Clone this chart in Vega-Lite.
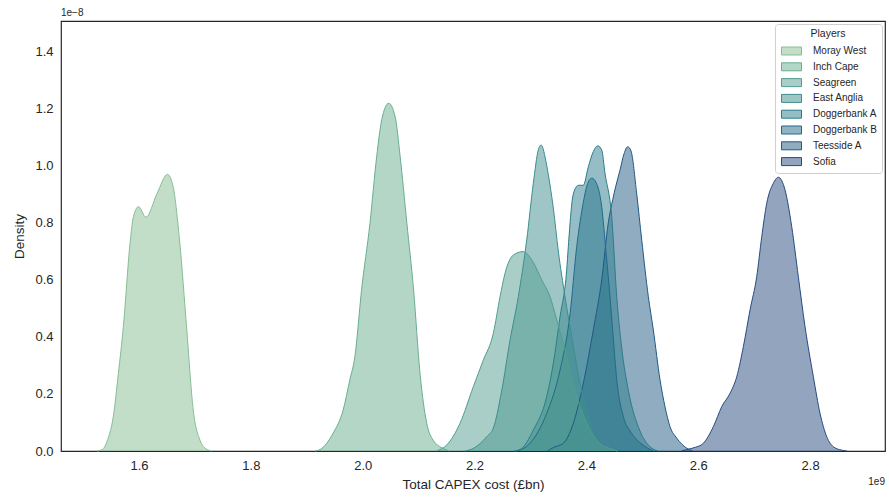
{
  "$schema": "https://vega.github.io/schema/vega-lite/v6.json",
  "width": 824,
  "height": 430,
  "autosize": "none",
  "padding": {"left": 61, "top": 21, "right": 4, "bottom": 46},
  "background": "white",
  "config": {
    "font": "Liberation Sans",
    "view": {"stroke": "#262626", "strokeWidth": 1.2},
    "axis": {"domain": false, "grid": false, "ticks": false, "labelFontSize": 13, "titleFontSize": 13.5, "titleFontWeight": "normal", "labelColor": "#262626", "titleColor": "#262626"}
  },
  "title": {"text": "1e−8", "anchor": "start", "frame": "group", "fontSize": 10, "fontWeight": "normal", "color": "#262626", "offset": 3},
  "layer": [
    {
      "data": {"values": [
        {"player":"Sofia","cost":2.570,"density":0},{"player":"Sofia","cost":2.5794,"density":0.005},{"player":"Sofia","cost":2.595,"density":0.013},{"player":"Sofia","cost":2.6091,"density":0.027},{"player":"Sofia","cost":2.627,"density":0.085},{"player":"Sofia","cost":2.642,"density":0.155},{"player":"Sofia","cost":2.6569,"density":0.202},{"player":"Sofia","cost":2.6689,"density":0.26},{"player":"Sofia","cost":2.6807,"density":0.365},{"player":"Sofia","cost":2.6927,"density":0.494},{"player":"Sofia","cost":2.7046,"density":0.61},{"player":"Sofia","cost":2.7136,"density":0.75},{"player":"Sofia","cost":2.7225,"density":0.867},{"player":"Sofia","cost":2.7343,"density":0.937},{"player":"Sofia","cost":2.7433,"density":0.958},{"player":"Sofia","cost":2.7552,"density":0.914},{"player":"Sofia","cost":2.7672,"density":0.785},{"player":"Sofia","cost":2.779,"density":0.61},{"player":"Sofia","cost":2.791,"density":0.435},{"player":"Sofia","cost":2.8059,"density":0.26},{"player":"Sofia","cost":2.8178,"density":0.132},{"player":"Sofia","cost":2.8298,"density":0.05},{"player":"Sofia","cost":2.8416,"density":0.015},{"player":"Sofia","cost":2.8566,"density":0.003},{"player":"Sofia","cost":2.866,"density":0},
        {"player":"Teesside A","cost":2.33,"density":0},{"player":"Teesside A","cost":2.3409,"density":0.012},{"player":"Teesside A","cost":2.3588,"density":0.027},{"player":"Teesside A","cost":2.3767,"density":0.097},{"player":"Teesside A","cost":2.3945,"density":0.237},{"player":"Teesside A","cost":2.4124,"density":0.424},{"player":"Teesside A","cost":2.4274,"density":0.599},{"player":"Teesside A","cost":2.4393,"density":0.80},{"player":"Teesside A","cost":2.4471,"density":0.88},{"player":"Teesside A","cost":2.453,"density":0.93},{"player":"Teesside A","cost":2.4601,"density":0.983},{"player":"Teesside A","cost":2.4673,"density":1.04},{"player":"Teesside A","cost":2.4739,"density":1.065},{"player":"Teesside A","cost":2.4798,"density":1.05},{"player":"Teesside A","cost":2.49,"density":0.90},{"player":"Teesside A","cost":2.499,"density":0.738},{"player":"Teesside A","cost":2.5108,"density":0.54},{"player":"Teesside A","cost":2.5197,"density":0.424},{"player":"Teesside A","cost":2.5317,"density":0.249},{"player":"Teesside A","cost":2.5406,"density":0.155},{"player":"Teesside A","cost":2.5496,"density":0.085},{"player":"Teesside A","cost":2.5616,"density":0.045},{"player":"Teesside A","cost":2.5794,"density":0.01},{"player":"Teesside A","cost":2.59,"density":0},
        {"player":"Doggerbank B","cost":2.275,"density":0},{"player":"Doggerbank B","cost":2.2992,"density":0.027},{"player":"Doggerbank B","cost":2.329,"density":0.132},{"player":"Doggerbank B","cost":2.3529,"density":0.283},{"player":"Doggerbank B","cost":2.3708,"density":0.48},{"player":"Doggerbank B","cost":2.3827,"density":0.715},{"player":"Doggerbank B","cost":2.3945,"density":0.87},{"player":"Doggerbank B","cost":2.4012,"density":0.93},{"player":"Doggerbank B","cost":2.4096,"density":0.955},{"player":"Doggerbank B","cost":2.4173,"density":0.94},{"player":"Doggerbank B","cost":2.4274,"density":0.855},{"player":"Doggerbank B","cost":2.435,"density":0.70},{"player":"Doggerbank B","cost":2.4422,"density":0.54},{"player":"Doggerbank B","cost":2.4483,"density":0.39},{"player":"Doggerbank B","cost":2.4543,"density":0.25},{"player":"Doggerbank B","cost":2.4662,"density":0.12},{"player":"Doggerbank B","cost":2.4781,"density":0.07},{"player":"Doggerbank B","cost":2.49,"density":0.04},{"player":"Doggerbank B","cost":2.5079,"density":0.012},{"player":"Doggerbank B","cost":2.52,"density":0},
        {"player":"Doggerbank A","cost":2.27,"density":0},{"player":"Doggerbank A","cost":2.2813,"density":0.005},{"player":"Doggerbank A","cost":2.3051,"density":0.073},{"player":"Doggerbank A","cost":2.329,"density":0.19},{"player":"Doggerbank A","cost":2.3409,"density":0.307},{"player":"Doggerbank A","cost":2.3529,"density":0.47},{"player":"Doggerbank A","cost":2.3648,"density":0.634},{"player":"Doggerbank A","cost":2.3677,"density":0.715},{"player":"Doggerbank A","cost":2.3767,"density":0.90},{"player":"Doggerbank A","cost":2.3856,"density":0.93},{"player":"Doggerbank A","cost":2.3945,"density":0.93},{"player":"Doggerbank A","cost":2.4035,"density":0.995},{"player":"Doggerbank A","cost":2.4124,"density":1.048},{"player":"Doggerbank A","cost":2.4203,"density":1.068},{"player":"Doggerbank A","cost":2.4274,"density":1.054},{"player":"Doggerbank A","cost":2.4333,"density":0.972},{"player":"Doggerbank A","cost":2.4453,"density":0.82},{"player":"Doggerbank A","cost":2.4543,"density":0.54},{"player":"Doggerbank A","cost":2.4632,"density":0.36},{"player":"Doggerbank A","cost":2.475,"density":0.213},{"player":"Doggerbank A","cost":2.4959,"density":0.07},{"player":"Doggerbank A","cost":2.5138,"density":0.015},{"player":"Doggerbank A","cost":2.528,"density":0},
        {"player":"East Anglia","cost":2.183,"density":0},{"player":"East Anglia","cost":2.1978,"density":0.009},{"player":"East Anglia","cost":2.2218,"density":0.05},{"player":"East Anglia","cost":2.2336,"density":0.08},{"player":"East Anglia","cost":2.2485,"density":0.21},{"player":"East Anglia","cost":2.2635,"density":0.388},{"player":"East Anglia","cost":2.2783,"density":0.54},{"player":"East Anglia","cost":2.2933,"density":0.738},{"player":"East Anglia","cost":2.3051,"density":0.937},{"player":"East Anglia","cost":2.3141,"density":1.054},{"player":"East Anglia","cost":2.3189,"density":1.071},{"player":"East Anglia","cost":2.329,"density":1.0},{"player":"East Anglia","cost":2.335,"density":0.93},{"player":"East Anglia","cost":2.3409,"density":0.85},{"player":"East Anglia","cost":2.3498,"density":0.70},{"player":"East Anglia","cost":2.3618,"density":0.54},{"player":"East Anglia","cost":2.3738,"density":0.40},{"player":"East Anglia","cost":2.3886,"density":0.237},{"player":"East Anglia","cost":2.4065,"density":0.097},{"player":"East Anglia","cost":2.4244,"density":0.027},{"player":"East Anglia","cost":2.4477,"density":0.005},{"player":"East Anglia","cost":2.456,"density":0},
        {"player":"Seagreen","cost":2.132,"density":0},{"player":"Seagreen","cost":2.1383,"density":0.005},{"player":"Seagreen","cost":2.1503,"density":0.021},{"player":"Seagreen","cost":2.174,"density":0.097},{"player":"Seagreen","cost":2.1978,"density":0.225},{"player":"Seagreen","cost":2.2157,"density":0.318},{"player":"Seagreen","cost":2.2336,"density":0.412},{"player":"Seagreen","cost":2.2456,"density":0.54},{"player":"Seagreen","cost":2.2545,"density":0.622},{"player":"Seagreen","cost":2.2694,"density":0.686},{"player":"Seagreen","cost":2.2872,"density":0.698},{"player":"Seagreen","cost":2.3023,"density":0.669},{"player":"Seagreen","cost":2.3201,"density":0.599},{"player":"Seagreen","cost":2.335,"density":0.54},{"player":"Seagreen","cost":2.347,"density":0.459},{"player":"Seagreen","cost":2.365,"density":0.33},{"player":"Seagreen","cost":2.383,"density":0.19},{"player":"Seagreen","cost":2.4006,"density":0.097},{"player":"Seagreen","cost":2.418,"density":0.038},{"player":"Seagreen","cost":2.442,"density":0.009},{"player":"Seagreen","cost":2.455,"density":0},
        {"player":"Inch Cape","cost":1.915,"density":0},{"player":"Inch Cape","cost":1.9237,"density":0.005},{"player":"Inch Cape","cost":1.947,"density":0.062},{"player":"Inch Cape","cost":1.965,"density":0.143},{"player":"Inch Cape","cost":1.977,"density":0.249},{"player":"Inch Cape","cost":1.986,"density":0.33},{"player":"Inch Cape","cost":1.998,"density":0.564},{"player":"Inch Cape","cost":2.013,"density":0.797},{"player":"Inch Cape","cost":2.025,"density":1.03},{"player":"Inch Cape","cost":2.034,"density":1.159},{"player":"Inch Cape","cost":2.0465,"density":1.217},{"player":"Inch Cape","cost":2.058,"density":1.17},{"player":"Inch Cape","cost":2.067,"density":1.03},{"player":"Inch Cape","cost":2.079,"density":0.797},{"player":"Inch Cape","cost":2.091,"density":0.564},{"player":"Inch Cape","cost":2.1025,"density":0.272},{"player":"Inch Cape","cost":2.1145,"density":0.097},{"player":"Inch Cape","cost":2.126,"density":0.038},{"player":"Inch Cape","cost":2.144,"density":0.009},{"player":"Inch Cape","cost":2.155,"density":0},
        {"player":"Moray West","cost":1.525,"density":0},{"player":"Moray West","cost":1.5338,"density":0.004},{"player":"Moray West","cost":1.544,"density":0.04},{"player":"Moray West","cost":1.554,"density":0.12},{"player":"Moray West","cost":1.563,"density":0.27},{"player":"Moray West","cost":1.572,"density":0.435},{"player":"Moray West","cost":1.584,"density":0.727},{"player":"Moray West","cost":1.59,"density":0.82},{"player":"Moray West","cost":1.599,"density":0.855},{"player":"Moray West","cost":1.6125,"density":0.818},{"player":"Moray West","cost":1.632,"density":0.90},{"player":"Moray West","cost":1.651,"density":0.968},{"player":"Moray West","cost":1.661,"density":0.925},{"player":"Moray West","cost":1.673,"density":0.727},{"player":"Moray West","cost":1.685,"density":0.435},{"player":"Moray West","cost":1.697,"density":0.143},{"player":"Moray West","cost":1.709,"density":0.038},{"player":"Moray West","cost":1.721,"density":0.006},{"player":"Moray West","cost":1.73,"density":0}
      ]},
      "mark": {"type": "area", "interpolate": "monotone", "fillOpacity": 0.5, "line": {"strokeWidth": 1}},
      "encoding": {
        "x": {"field": "cost", "type": "quantitative", "scale": {"domain": [1.4605, 2.934], "nice": false, "zero": false}, "axis": {"title": "Total CAPEX cost (£bn)", "values": [1.6, 1.8, 2.0, 2.2, 2.4, 2.6, 2.8], "format": ".1f", "labelPadding": 8, "titlePadding": 5}},
        "y": {"field": "density", "type": "quantitative", "stack": null, "scale": {"domain": [0, 1.505], "nice": false}, "axis": {"title": "Density", "values": [0, 0.2, 0.4, 0.6, 0.8, 1.0, 1.2, 1.4], "format": ".1f", "labelPadding": 8, "titlePadding": 8}},
        "color": {"field": "player", "type": "nominal", "scale": {"domain": ["Moray West", "Inch Cape", "Seagreen", "East Anglia", "Doggerbank A", "Doggerbank B", "Teesside A", "Sofia"], "range": ["#86be91", "#69ae90", "#519e8f", "#3d8e8e", "#2b7c8c", "#206b89", "#205984", "#274a7f"]},
          "legend": {"title": "Players", "orient": "top-right", "offset": 3, "padding": 5, "fillColor": "white", "strokeColor": "#d0d0d0", "cornerRadius": 3, "titleFontSize": 10.5, "titleFontWeight": "normal", "titleAnchor": "middle", "titleColor": "#262626", "titlePadding": 6, "labelFontSize": 10, "labelColor": "#262626", "labelOffset": 16, "rowPadding": 2.8, "symbolOffset": 6, "symbolType": "M-2,-0.8H2V0.8H-2Z", "symbolSize": 100, "symbolStrokeWidth": 1, "encode": {"symbols": {"update": {"fillOpacity": {"value": 0.5}, "stroke": {"scale": "color", "field": "value"}, "strokeWidth": {"value": 1}}}}}}
      }
    },
    {
      "data": {"values": [{"t": "1e9"}]},
      "mark": {"type": "text", "align": "right", "baseline": "middle", "fontSize": 10, "color": "#262626", "dy": 31},
      "encoding": {
        "x": {"datum": 2.934, "type": "quantitative"},
        "y": {"datum": 0, "type": "quantitative"},
        "text": {"field": "t"}
      }
    }
  ]
}
